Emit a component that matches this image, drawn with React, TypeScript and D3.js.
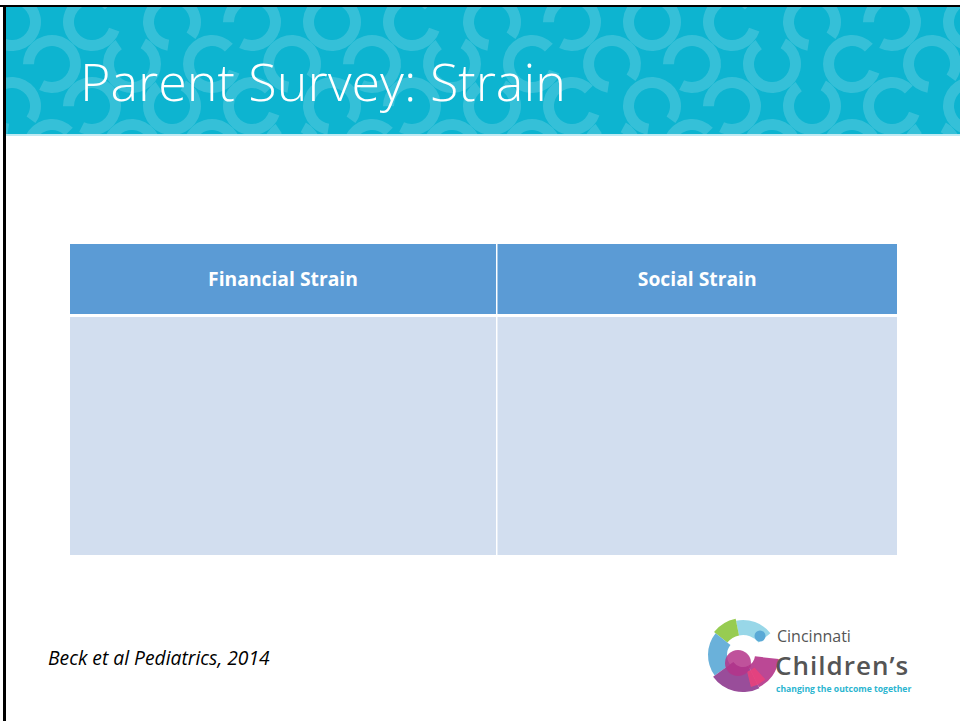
import React from 'react'
import * as d3 from 'd3'

const title = 'Parent Survey: Strain'
const columns = ['Financial Strain', 'Social Strain']
const columnShares = [51.6, 48.4]
const rows = [['', '']]
const citation = 'Beck et al Pediatrics, 2014'
const logoLines = ['Cincinnati', 'Children\u2019s', 'changing the outcome together']
const logoColors = ['#8cc63f', '#8dd3e6', '#5aa9d6', '#e8417c', '#b4348a', '#8e3a8f']

const W = 960
const H = 721

export default function App() {
  const x = d3.scaleLinear().domain([0, d3.sum(columnShares)]).range([70, 897])
  const starts = columnShares.map((_, i) => d3.sum(columnShares.slice(0, i)))
  const headTop = 244
  const headH = 70
  const bodyTop = 317
  const bodyBottom = 555
  const gap = 1.5

  // banner ring decoration
  const rings: { cx: number; cy: number; a: number }[] = []
  for (let row = 0; row < 4; row++) {
    for (let col = 0; col < 14; col++) {
      rings.push({ cx: col * 80 + (row % 2 ? 40 : 0) + 12, cy: row * 42 + 22, a: (row * 3 + col) % 4 })
    }
  }
  const ringArc = d3.arc<any>().innerRadius(18).outerRadius(29)

  const logoArc = d3.arc<any>()
  const segs = [
    { s: -0.2, e: 0.9, c: logoColors[1], ir: 20, or: 35 },
    { s: -0.9, e: -0.2, c: logoColors[0], ir: 20, or: 37 },
    { s: -2.2, e: -0.9, c: logoColors[2], ir: 16, or: 35 },
    { s: -3.6, e: -2.2, c: logoColors[5], ir: 12, or: 37 },
    { s: -4.6, e: -3.6, c: logoColors[4], ir: 12, or: 36 },
    { s: 2.4, e: 2.9, c: logoColors[3], ir: 17, or: 33 },
  ]

  return (
    <svg width={W} height={H} style={{ position: 'absolute', left: 0, top: 0 }}>
      <rect width={W} height={H} fill="#fff" />
      <defs>
        <clipPath id="bannerClip">
          <rect x={6} y={7} width={W - 6} height={127} />
        </clipPath>
      </defs>
      <rect x={6} y={7} width={W - 6} height={127} fill="#0db4d0" />
      <g clipPath="url(#bannerClip)">
        {rings.map((r, i) => (
          <path
            key={i}
            transform={`translate(${r.cx},${r.cy})`}
            d={ringArc({ startAngle: r.a * 1.4 + 0.5, endAngle: r.a * 1.4 + 0.5 + Math.PI * 1.65 }) || ''}
            fill="#40c3d9"
            opacity={0.8}
          />
        ))}
      </g>
      <rect x={6} y={134} width={W - 6} height={2} fill="#bfeaf2" />
      <text x={80} y={101} fill="#fff" fontFamily="'Open Sans', sans-serif" fontWeight={300} fontSize={52}>
        {title}
      </text>
      {/* slide border */}
      <rect x={0} y={5} width={W} height={2} fill="#000" />
      <rect x={3} y={5} width={3} height={H} fill="#000" />

      {/* table */}
      {columns.map((c, i) => {
        const x0 = x(starts[i]) + (i > 0 ? gap / 2 : 0)
        const x1 = x(starts[i] + columnShares[i]) - (i < columns.length - 1 ? gap / 2 : 0)
        return (
          <g key={c}>
            <rect x={x0} y={headTop} width={x1 - x0} height={headH} fill="#5b9bd5" />
            <text
              x={(x0 + x1) / 2}
              y={headTop + headH / 2 + 7}
              textAnchor="middle"
              fill="#fff"
              fontFamily="'Open Sans', sans-serif"
              fontWeight={700}
              fontSize={19.3}
            >
              {c}
            </text>
            {rows.map((r, k) => (
              <g key={k}>
                <rect x={x0} y={bodyTop} width={x1 - x0} height={bodyBottom - bodyTop} fill="#d2deef" />
                <text x={x0 + 10} y={bodyTop + 30} fontSize={16}>{r[i]}</text>
              </g>
            ))}
          </g>
        )
      })}

      <text x={48} y={665} fontFamily="'Open Sans', sans-serif" fontStyle="italic" fontSize={19.3} fill="#000">
        {citation}
      </text>

      {/* logo */}
      <g transform="translate(743,655)">
        {segs.map((s, i) => (
          <path key={i} d={logoArc({ startAngle: s.s, endAngle: s.e, innerRadius: s.ir, outerRadius: s.or }) || ''} fill={s.c} opacity={0.9} />
        ))}
        <circle cx={-5} cy={8} r={13} fill={logoColors[4]} opacity={0.85} />
        <circle cx={17} cy={-19} r={5.5} fill={logoColors[2]} />
      </g>
      <text x={777} y={642} fill="#555" fontFamily="'Open Sans', sans-serif" fontSize={16}>
        {logoLines[0]}
      </text>
      <text x={775} y={675} fill="#555" fontFamily="'Open Sans', sans-serif" fontWeight={600} fontSize={26} letterSpacing={1}>
        {logoLines[1]}
      </text>
      <text x={776} y={692} fill="#2bb5d0" fontFamily="'Open Sans', sans-serif" fontWeight={700} fontSize={8.6}>
        {logoLines[2]}
      </text>
    </svg>
  )
}
